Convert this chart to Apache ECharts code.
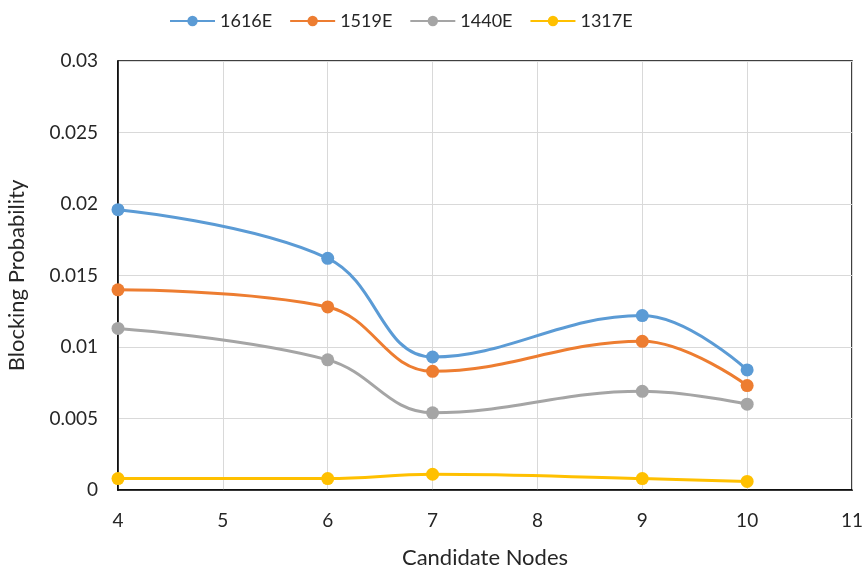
<!DOCTYPE html>
<html><head><meta charset="utf-8">
<script src="https://cdn.jsdelivr.net/npm/echarts@6/dist/echarts.min.js"></script>
<style>html,body{margin:0;padding:0;background:#fff}#c{width:866px;height:570px}</style>
</head><body><div id="c"></div>
<script>
var xValues = [4, 6, 7, 9, 10];
var seriesNames = ['1616E', '1519E', '1440E', '1317E'];
var s1616E = [0.0196, 0.0162, 0.0093, 0.0122, 0.0084];
var s1519E = [0.0140, 0.0128, 0.0083, 0.0104, 0.0073];
var s1440E = [0.0113, 0.0091, 0.0054, 0.0069, 0.0060];
var s1317E = [0.0008, 0.0008, 0.0011, 0.0008, 0.0006];
var colors = ['#5b9bd5', '#ed7d31', '#a5a5a5', '#ffc000'];
var allData = [s1616E, s1519E, s1440E, s1317E];
var font = 'Lato';
var chart = echarts.init(document.getElementById('c'));
chart.setOption({
  animation: false,
  color: colors,
  textStyle: {fontFamily: font},
  legend: {
    top: 7, left: 164, itemWidth: 45, itemHeight: 13, itemGap: 17,
    textStyle: {fontSize: 18, color: '#262626', fontFamily: font},
    data: seriesNames
  },
  grid: {left: 118, right: 14, top: 61, bottom: 80, show: true, borderColor: '#000', borderWidth: 1.5,
    containLabel: false, outerBoundsMode: 'none'},
  xAxis: {
    type: 'value', min: 4, max: 11, interval: 1,
    name: 'Candidate Nodes', nameLocation: 'middle', nameGap: 57,
    nameTextStyle: {fontSize: 22, color: '#262626', fontFamily: font},
    axisLine: {show: true, lineStyle: {color: '#000', width: 1.5}},
    axisTick: {show: false},
    axisLabel: {fontSize: 19, color: '#262626', margin: 21, fontFamily: font},
    splitLine: {show: true, lineStyle: {color: '#d9d9d9', width: 1}}
  },
  yAxis: {
    type: 'value', min: 0, max: 0.03, interval: 0.005,
    name: 'Blocking Probability', nameLocation: 'middle', nameGap: 90,
    nameTextStyle: {fontSize: 22, color: '#262626', fontFamily: font},
    axisLine: {show: true, lineStyle: {color: '#000', width: 1.5}},
    axisTick: {show: false},
    axisLabel: {fontSize: 19, color: '#262626', margin: 20, fontFamily: font,
      formatter: function(v){ return v === 0 ? '0' : String(+v.toFixed(3)); }},
    splitLine: {show: true, lineStyle: {color: '#d9d9d9', width: 1}}
  },
  series: seriesNames.map(function(n, i){
    return {
      name: n, type: 'line', smooth: 0.4,
      data: xValues.map(function(x, j){ return [x, allData[i][j]]; }),
      symbol: 'circle', symbolSize: 13,
      lineStyle: {width: 3, color: colors[i]},
      itemStyle: {color: colors[i]}
    };
  })
});
</script></body></html>
